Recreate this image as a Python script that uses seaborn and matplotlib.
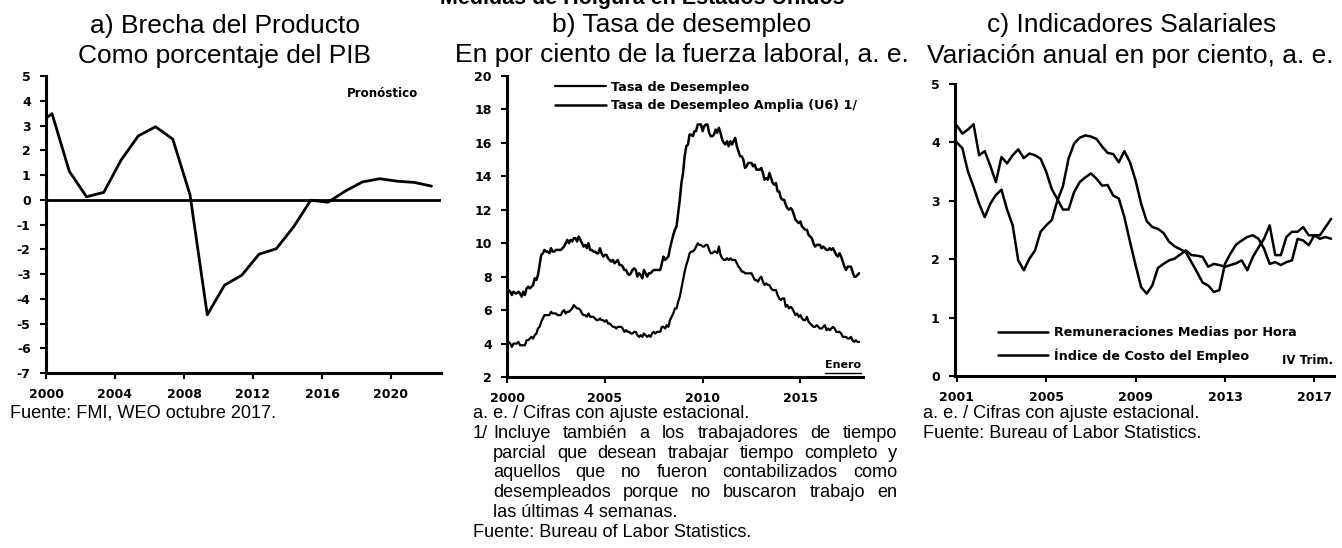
import numpy as np
import pandas as pd
import matplotlib
matplotlib.use('Agg')
import matplotlib.pyplot as plt
import seaborn as sn

sn.set_style('white')
plt.rcParams['font.family'] = ['Liberation Sans', 'DejaVu Sans']
plt.rcParams['axes.unicode_minus'] = False
plt.rcParams['text.color'] = 'black'
plt.rcParams['xtick.color'] = 'black'
plt.rcParams['ytick.color'] = 'black'

W, H = 1342, 548

##############################################################################
# Datos
##############################################################################

# a) Brecha del producto, % del PIB (FMI, WEO oct-2017)
brecha_anios = list(range(1999, 2023))
brecha_valores = [2.95, 3.48, 1.15, 0.12, 0.30, 1.60, 2.58, 2.95, 2.45, 0.20,
                  -4.65, -3.45, -3.05, -2.20, -1.98, -1.10, -0.02, -0.10,
                  0.35, 0.72, 0.85, 0.75, 0.70, 0.55]

# b) Tasa de desempleo mensual, ene-2000 a ene-2018
desempleo = [
    4.0, 4.1, 4.0, 3.8, 4.0, 4.0, 4.0, 4.1, 3.9, 3.9, 3.9, 3.9,
    4.2, 4.2, 4.3, 4.4, 4.3, 4.5, 4.6, 4.9, 5.0, 5.3, 5.5, 5.7,
    5.7, 5.7, 5.7, 5.9, 5.8, 5.8, 5.8, 5.7, 5.7, 5.7, 5.9, 6.0,
    5.8, 5.9, 5.9, 6.0, 6.1, 6.3, 6.2, 6.1, 6.1, 6.0, 5.8, 5.7,
    5.7, 5.6, 5.8, 5.6, 5.6, 5.6, 5.5, 5.4, 5.4, 5.5, 5.4, 5.4,
    5.3, 5.4, 5.2, 5.2, 5.1, 5.0, 5.0, 4.9, 5.0, 5.0, 5.0, 4.9,
    4.7, 4.8, 4.7, 4.7, 4.6, 4.6, 4.7, 4.7, 4.5, 4.4, 4.5, 4.4,
    4.6, 4.5, 4.4, 4.5, 4.4, 4.6, 4.7, 4.6, 4.7, 4.7, 4.7, 5.0,
    5.0, 4.9, 5.1, 5.0, 5.4, 5.6, 5.8, 6.1, 6.1, 6.5, 6.8, 7.3,
    7.8, 8.3, 8.7, 9.0, 9.4, 9.5, 9.5, 9.6, 9.8, 10.0, 9.9, 9.9,
    9.8, 9.8, 9.9, 9.9, 9.6, 9.4, 9.4, 9.5, 9.5, 9.4, 9.8, 9.3,
    9.1, 9.0, 9.0, 9.1, 9.0, 9.1, 9.0, 9.0, 9.0, 8.8, 8.6, 8.5,
    8.3, 8.3, 8.2, 8.2, 8.2, 8.2, 8.2, 8.0, 7.8, 7.8, 7.7, 7.9,
    8.0, 7.7, 7.5, 7.6, 7.5, 7.5, 7.3, 7.2, 7.2, 7.2, 6.9, 6.7,
    6.6, 6.7, 6.7, 6.2, 6.3, 6.1, 6.2, 6.1, 5.9, 5.7, 5.8, 5.6,
    5.7, 5.5, 5.4, 5.4, 5.6, 5.3, 5.2, 5.1, 5.0, 5.0, 5.1, 5.0,
    4.9, 4.9, 5.0, 5.1, 4.8, 4.9, 4.8, 4.9, 5.0, 4.9, 4.7, 4.7,
    4.7, 4.6, 4.4, 4.4, 4.4, 4.3, 4.3, 4.4, 4.2, 4.1, 4.2, 4.1,
    4.1]
desempleo_u6 = [
    7.1, 7.2, 7.1, 6.9, 7.1, 7.0, 7.0, 7.1, 7.0, 6.8, 7.1, 6.9,
    7.3, 7.4, 7.3, 7.4, 7.5, 7.9, 7.8, 8.1, 8.7, 9.3, 9.4, 9.6,
    9.5, 9.5, 9.4, 9.7, 9.5, 9.5, 9.6, 9.6, 9.6, 9.6, 9.7, 9.8,
    10.0, 10.2, 10.0, 10.2, 10.1, 10.3, 10.3, 10.1, 10.4, 10.2, 10.0, 9.8,
    9.9, 9.7, 10.0, 9.6, 9.6, 9.5, 9.5, 9.4, 9.4, 9.7, 9.4, 9.2,
    9.3, 9.3, 9.1, 9.0, 8.9, 9.0, 8.8, 8.9, 9.0, 8.7, 8.7, 8.6,
    8.4, 8.4, 8.2, 8.1, 8.2, 8.4, 8.5, 8.4, 8.0, 8.2, 8.1, 7.9,
    8.4, 8.2, 8.0, 8.2, 8.2, 8.3, 8.4, 8.4, 8.4, 8.4, 8.4, 8.8,
    9.2, 9.0, 9.1, 9.2, 9.7, 10.1, 10.5, 10.8, 11.0, 11.8, 12.6, 13.6,
    14.2, 15.2, 15.8, 15.9, 16.5, 16.5, 16.4, 16.7, 16.7, 17.1, 17.1, 17.1,
    16.7, 17.0, 17.1, 17.1, 16.6, 16.4, 16.4, 16.5, 16.8, 16.6, 16.9, 16.6,
    16.2, 16.0, 15.9, 16.1, 15.8, 16.1, 15.9, 16.1, 16.3, 15.8, 15.5, 15.2,
    15.2, 15.0, 14.5, 14.6, 14.8, 14.8, 14.8, 14.6, 14.7, 14.4, 14.4, 14.4,
    14.5, 14.2, 13.8, 13.9, 13.8, 14.2, 13.9, 13.6, 13.5, 13.6, 13.1, 13.1,
    12.7, 12.6, 12.6, 12.3, 12.1, 12.0, 12.1, 12.0, 11.7, 11.4, 11.3, 11.2,
    11.3, 11.0, 10.9, 10.8, 10.8, 10.5, 10.4, 10.3, 10.0, 9.8, 9.9, 9.9,
    9.9, 9.7, 9.8, 9.7, 9.6, 9.6, 9.7, 9.6, 9.7, 9.5, 9.3, 9.2,
    9.4, 9.2, 8.9, 8.6, 8.4, 8.6, 8.6, 8.6, 8.3, 8.0, 8.0, 8.1,
    8.2]

# c) Indicadores salariales trimestrales, 2001T1 a 2017T4 (var. anual %)
remuneraciones = [
    4.00, 3.90, 3.50, 3.24,
    2.95, 2.72, 2.95, 3.10,
    3.19, 2.85, 2.58, 1.98,
    1.81, 2.01, 2.15, 2.47,
    2.58, 2.67, 3.00, 3.25,
    3.72, 3.98, 4.08, 4.12,
    4.10, 4.06, 3.93, 3.82,
    3.80, 3.66, 3.85, 3.66,
    3.35, 2.95, 2.65, 2.55,
    2.52, 2.45, 2.30, 2.22,
    2.17, 2.12, 1.95, 1.78,
    1.60, 1.55, 1.44, 1.47,
    1.92, 2.10, 2.25, 2.32,
    2.38, 2.41, 2.35, 2.18,
    1.92, 1.95, 1.90, 1.95,
    1.98, 2.35, 2.32, 2.24,
    2.41, 2.35, 2.38, 2.35]
costo_empleo = [
    4.29, 4.15, 4.22, 4.31,
    3.78, 3.85, 3.60, 3.32,
    3.75, 3.64, 3.78, 3.88,
    3.73, 3.81, 3.78, 3.72,
    3.50, 3.20, 3.03, 2.85,
    2.85, 3.15, 3.32, 3.40,
    3.47, 3.38, 3.26, 3.27,
    3.09, 3.04, 2.72, 2.30,
    1.90, 1.52, 1.41, 1.55,
    1.85, 1.92, 1.98, 2.01,
    2.08, 2.15, 2.07, 2.06,
    2.04, 1.87, 1.92, 1.90,
    1.87, 1.90, 1.93, 1.98,
    1.81, 2.04, 2.20, 2.35,
    2.58, 2.07, 2.07, 2.38,
    2.47, 2.47, 2.55, 2.41,
    2.41, 2.41, 2.55, 2.69]

fechas_b = pd.date_range('2000-01-01', '2018-01-01', freq='MS')
x_b = fechas_b.year + (fechas_b.month - 1) / 12
trimestres = pd.period_range('2001Q1', '2017Q4', freq='Q')
x_c = trimestres.year + (trimestres.quarter - 1) / 4
x_a = np.array(brecha_anios) + 0.35

##############################################################################
# Figura
##############################################################################

fig = plt.figure(figsize=(W / 100, H / 100), dpi=100)


def px(x, y):
    return x / W, 1 - y / H


def ejes(x0, y0, x1, y1):
    return fig.add_axes([x0 / W, 1 - y1 / H, (x1 - x0) / W, (y1 - y0) / H])


tick_font = dict(family='DejaVu Sans', weight='bold', size=9)
leg_font = dict(family='DejaVu Sans', weight='bold', size=9.2)


def estilo(ax):
    for s in ['top', 'right']:
        ax.spines[s].set_visible(False)
    for s in ['left', 'bottom']:
        ax.spines[s].set_linewidth(2.2)
        ax.spines[s].set_color('black')
    ax.tick_params(direction='out', length=4, width=1.5, pad=7,
                   left=True, bottom=True, colors='black')
    for lab in ax.get_xticklabels() + ax.get_yticklabels():
        lab.set_fontproperties(tick_font)
    ax.set_xlabel('')
    ax.set_ylabel('')


# a) Brecha del producto
ax1 = ejes(46, 76, 441, 373)
ax1.axhline(0, color='black', lw=2.0)
sn.lineplot(x=x_a, y=brecha_valores, color='black', lw=2.0, ax=ax1)
ax1.set_xlim(2000, 2022.9)
ax1.set_ylim(-7, 5)
ax1.set_yticks(range(-7, 6))
ax1.set_xticks(range(2000, 2021, 4))
ax1.text(0.853, 0.94, 'Pronóstico', transform=ax1.transAxes, ha='center',
         va='center', family='DejaVu Sans', weight='bold', size=8.6)
estilo(ax1)

# b) Tasa de desempleo
ax2 = ejes(507, 76, 863, 377)
sn.lineplot(x=x_b, y=desempleo, color='black', lw=1.6, ax=ax2,
            label='Tasa de Desempleo')
sn.lineplot(x=x_b, y=desempleo_u6, color='black', lw=1.8, ax=ax2,
            label='Tasa de Desempleo Amplia (U6) 1/')
ax2.set_xlim(2000, 2018.2)
ax2.set_ylim(2, 20)
ax2.set_yticks(range(2, 21, 2))
ax2.set_xticks(range(2000, 2016, 5))
ax2.legend(loc='upper left', bbox_to_anchor=(0.135, 0.985), frameon=False,
           handlelength=4.0, handletextpad=0.4, labelspacing=0.45,
           borderpad=0, borderaxespad=0, prop=leg_font)
ax2.text(0.995, 0.022, 'Enero', transform=ax2.transAxes, ha='right',
         va='bottom', family='DejaVu Sans', weight='bold', size=8)
ax2.plot([0.893, 0.995], [0.012, 0.012], transform=ax2.transAxes,
         color='black', lw=1.0, clip_on=False)
estilo(ax2)

# c) Indicadores salariales
ax3 = ejes(955, 84, 1334, 376)
sn.lineplot(x=x_c, y=remuneraciones, color='black', lw=1.8, ax=ax3,
            label='Remuneraciones Medias por Hora')
sn.lineplot(x=x_c, y=costo_empleo, color='black', lw=1.8, ax=ax3,
            label='Índice de Costo del Empleo')
ax3.set_xlim(2000.92, 2017.88)
ax3.set_ylim(0, 5)
ax3.set_yticks(range(0, 6))
ax3.set_xticks(range(2001, 2018, 4))
ax3.legend(loc='upper left', bbox_to_anchor=(0.113, 0.17), frameon=False,
           handlelength=3.9, handletextpad=0.5, labelspacing=0.7,
           borderpad=0, borderaxespad=0, prop=leg_font)
ax3.text(0.998, 0.03, 'IV Trim.', transform=ax3.transAxes, ha='right',
         va='bottom', family='DejaVu Sans', weight='bold', size=8.5)
estilo(ax3)

# Titulos
tit = dict(size=19, ha='center', va='baseline')
fig.text(*px(642, 4), 'Medidas de Holgura en Estados Unidos', size=15.5,
         weight='bold', ha='center', va='baseline')
fig.text(*px(225, 33), 'a) Brecha del Producto', **tit)
fig.text(*px(225, 63), 'Como porcentaje del PIB', **tit)
fig.text(*px(682, 32), 'b) Tasa de desempleo', **tit)
fig.text(*px(682, 62), 'En por ciento de la fuerza laboral, a. e.', **tit)
fig.text(*px(1132, 32), 'c) Indicadores Salariales', **tit)
fig.text(*px(1130, 63), 'Variación anual en por ciento, a. e.', **tit)

# Notas
nota = dict(size=13.1, ha='left', va='baseline')
renderer = fig.canvas.get_renderer()


def linea_justificada(texto, x0, x1, y):
    palabras = texto.split()
    objs = [fig.text(0, 0, p, **nota) for p in palabras]
    anchos = [o.get_window_extent(renderer).width for o in objs]
    hueco = (x1 - x0 - sum(anchos)) / (len(palabras) - 1)
    x = x0
    for o, a in zip(objs, anchos):
        o.set_position(px(x, y))
        x += a + hueco


fig.text(*px(10, 418), 'Fuente: FMI, WEO octubre 2017.', **nota)

fig.text(*px(473, 418), 'a. e. / Cifras con ajuste estacional.', **nota)
fig.text(*px(473, 438), '1/', **nota)
linea_justificada('Incluye también a los trabajadores de tiempo', 493, 897, 438)
linea_justificada('parcial que desean trabajar tiempo completo y', 493, 897, 458)
linea_justificada('aquellos que no fueron contabilizados como', 493, 897, 477)
linea_justificada('desempleados porque no buscaron trabajo en', 493, 897, 497)
fig.text(*px(493, 517), 'las últimas 4 semanas.', **nota)
fig.text(*px(473, 537), 'Fuente: Bureau of Labor Statistics.', **nota)

fig.text(*px(923, 418), 'a. e. / Cifras con ajuste estacional.', **nota)
fig.text(*px(923, 438), 'Fuente: Bureau of Labor Statistics.', **nota)

fig.savefig('out.png', dpi=100)
